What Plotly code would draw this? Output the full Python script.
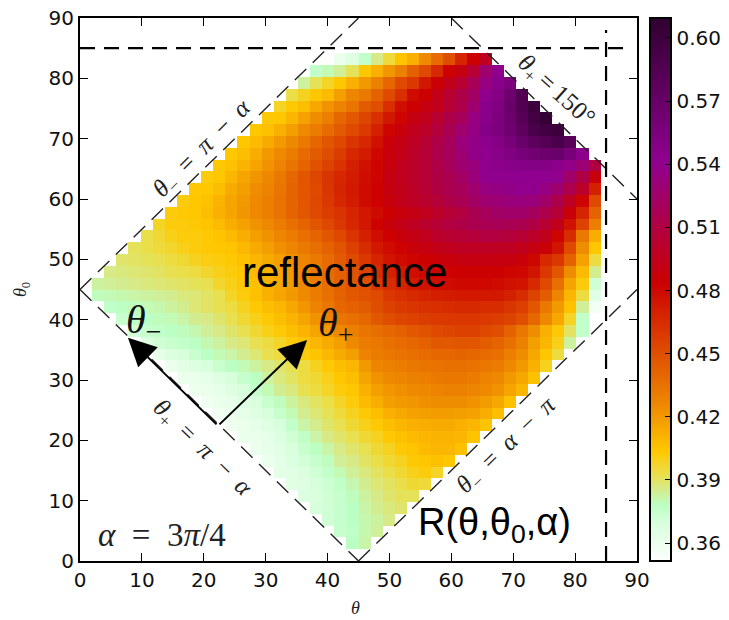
import plotly.graph_objects as go

# reflectance, in thousandths; row_k holds the cells of row k from column start[k]
row_01 = [378,382]
row_02 = [375,377,381,384]
row_03 = [372,375,378,381,383,386]
row_04 = [370,372,375,378,382,385,387,389]
row_05 = [367,369,372,375,379,383,386,389,391,391]
row_06 = [365,366,370,373,377,381,385,388,390,393,396,395]
row_07 = [364,365,368,372,376,380,384,387,390,393,396,400,402,398]
row_08 = [361,363,367,371,375,379,384,386,390,393,396,399,403,404,406,404]
row_09 = [360,362,365,369,374,378,382,386,389,392,396,399,403,405,408,410,410,406]
row_10 = [360,361,363,367,372,377,382,386,389,392,396,399,403,406,408,410,411,411,410,405]
row_11 = [359,360,363,366,370,376,382,385,389,392,396,400,403,407,410,412,413,414,414,412,410,405]
row_12 = [358,360,363,366,370,375,380,385,388,391,395,399,403,407,412,415,417,418,419,419,418,417,413,407]
row_13 = [358,360,362,366,369,374,379,383,387,390,393,398,402,408,413,418,420,421,423,424,424,424,422,419,415,406]
row_14 = [359,360,363,366,370,376,380,385,387,392,394,398,402,404,412,418,421,423,425,426,428,429,429,427,425,422,416,410]
row_15 = [360,361,363,366,370,375,378,383,387,390,394,396,400,404,407,416,422,425,427,429,430,432,433,433,431,428,426,420,415,406]
row_16 = [360,364,367,370,374,378,380,383,386,389,392,394,399,403,407,410,420,427,429,431,433,434,435,436,436,435,433,431,426,420,412,399]
row_17 = [363,367,370,374,378,380,382,385,388,392,394,398,402,405,409,414,418,428,431,433,435,436,438,440,440,441,440,438,436,430,424,415,404,394]
row_18 = [368,372,374,376,378,381,383,386,388,392,394,398,402,405,410,414,418,425,431,433,436,438,440,443,446,446,447,447,444,441,436,429,418,410,400,383]
row_19 = [371,375,376,378,379,381,384,386,389,392,396,400,403,407,411,416,420,426,430,434,437,440,443,446,449,452,454,456,456,453,450,442,433,424,412,403,390,376]
row_20 = [374,377,378,379,380,382,385,386,389,392,396,400,403,407,411,416,422,428,434,436,440,446,451,454,456,458,459,460,460,460,459,458,455,450,440,426,415,398,376]
row_21 = [377,378,379,380,381,383,385,388,390,392,394,399,403,407,410,415,421,428,433,440,443,445,451,456,459,461,463,464,465,466,466,465,465,461,457,447,432,420,406,384,357]
row_22 = [379,380,381,382,383,384,385,387,388,390,392,398,402,406,412,416,420,425,431,436,442,446,449,452,460,463,466,469,471,472,473,473,473,473,470,465,455,444,427,410,394,365]
row_23 = [383,384,385,386,387,388,389,390,391,392,397,400,403,406,412,415,419,425,431,437,443,447,450,460,465,469,473,476,478,479,480,480,480,479,477,475,466,452,436,416,402,372]
row_24 = [386,387,388,389,390,392,393,394,397,400,402,404,408,412,416,420,426,432,438,443,449,455,465,470,474,478,480,482,483,484,484,484,484,482,480,475,460,447,424,408,385]
row_25 = [389,390,391,392,394,396,399,401,402,403,406,410,414,418,423,427,432,438,445,452,460,468,475,479,482,484,486,488,490,490,490,490,489,487,481,466,460,442,417,394]
row_26 = [391,393,395,397,400,402,403,404,405,409,414,418,423,427,432,437,442,448,456,465,474,479,483,487,490,493,495,497,498,498,498,497,495,490,486,475,452,424,404]
row_27 = [393,396,400,402,402,403,405,408,413,418,422,427,431,436,441,447,453,462,470,478,483,487,491,495,500,503,505,507,509,509,507,505,500,495,482,465,432,413]
row_28 = [398,402,402,403,405,408,413,417,422,426,431,436,441,447,453,460,467,474,483,488,492,497,501,505,509,512,515,517,518,517,515,511,503,494,476,455,430]
row_29 = [402,403,404,407,412,416,421,426,430,435,441,446,452,458,462,468,474,479,484,488,491,495,500,504,509,516,520,524,525,525,521,513,505,487,468,442]
row_30 = [402,404,406,411,416,420,425,430,435,441,447,453,460,467,472,479,483,488,494,498,501,506,512,516,523,528,530,532,533,532,525,513,497,482,452]
row_31 = [403,404,407,414,418,424,428,434,441,447,452,461,468,473,479,483,490,494,499,504,510,515,520,527,534,536,538,540,540,535,527,514,500,470]
row_32 = [402,404,410,416,421,426,432,440,447,454,461,467,472,478,482,490,495,500,505,511,516,523,532,540,542,542,542,542,541,540,525,512,487]
row_33 = [403,406,411,416,422,428,434,441,449,455,462,470,477,482,488,495,500,505,512,520,528,533,540,544,546,548,550,548,544,538,530,510]
row_34 = [404,407,413,420,425,431,438,445,451,458,467,472,481,488,492,500,505,513,520,529,538,542,546,551,558,563,566,568,558,545]
row_35 = [404,408,414,420,426,432,440,447,453,461,467,477,487,491,497,504,512,520,532,538,544,549,558,568,577,583,590,580]
row_36 = [404,406,412,418,425,431,438,445,452,459,470,482,488,495,500,508,516,527,536,548,555,564,576,590,597,600]
row_37 = [403,404,410,417,424,430,440,446,454,463,474,482,490,495,503,512,520,535,546,553,566,582,596,606]
row_38 = [398,403,407,415,422,428,434,445,450,464,478,484,490,495,505,513,528,545,552,568,585,600]
row_39 = [393,399,404,408,418,427,432,442,452,464,479,484,493,503,512,523,540,548,565,585]
row_40 = [383,391,398,404,412,420,429,440,452,460,474,486,494,503,518,535,545,555]
row_41 = [376,380,384,391,404,412,421,429,443,452,466,483,491,505,527,540]
row_42 = [360,366,376,386,395,405,412,425,438,450,468,484,497]

rows = [row_01,row_02,row_03,row_04,row_05,row_06,row_07,row_08,row_09,row_10,row_11,row_12,row_13,row_14,
        row_15,row_16,row_17,row_18,row_19,row_20,row_21,row_22,row_23,row_24,row_25,row_26,row_27,row_28,
        row_29,row_30,row_31,row_32,row_33,row_34,row_35,row_36,row_37,row_38,row_39,row_40,row_41,row_42]
start = [22,21,20,19,18,17,16,15,14,13,12,11,10,9,8,7,6,5,4,3,2,1,1,2,3,4,5,6,7,8,9,10,11,12,13,14,15,16,17,18,19,21]

n_cells = 46
axis_span = 90
step = axis_span / n_cells
centers = [(i + 0.5) * step for i in range(n_cells)]
z = [[None] * n_cells for _ in range(n_cells)]
for k, (vals, s) in enumerate(zip(rows, start), start=1):
    for j, v in enumerate(vals):
        z[k][s + j] = v / 1000

zmin, zmax = 0.3515, 0.6095
cbar_ticks = [0.36, 0.39, 0.42, 0.45, 0.48, 0.51, 0.54, 0.57, 0.60]
cmap = [[0, "#fdfffd"], [0.07, "#d8ffdc"], [0.103, "#bcffc4"], [0.13, "#d4ec90"], [0.157, "#e8e050"], [0.202, "#ffc800"],
        [0.288, "#ee8800"], [0.512, "#cc0000"], [0.735, "#900090"], [1, "#300030"]]

MATH = "Liberation Serif"
TICK = dict(family="DejaVu Sans", size=20, color="#111")
fig = go.Figure(go.Heatmap(
    x=centers, y=centers, z=z, zmin=zmin, zmax=zmax, colorscale=cmap, hoverongaps=False,
    colorbar=dict(thickness=21, lenmode="pixels", len=543, x=1.0233, xanchor="left", xpad=0, y=0, yanchor="bottom", ypad=0,
                  tickvals=cbar_ticks, ticktext=[f"{t:.2f}" for t in cbar_ticks], ticks="inside", ticklen=7,
                  tickcolor="black", outlinewidth=2, outlinecolor="black", tickfont=TICK, borderwidth=0),
))

axis = dict(range=[0, axis_span], dtick=10, ticks="inside", ticklen=8, tickwidth=1, tickcolor="black", mirror="ticks",
            showline=True, linewidth=2, linecolor="black", showgrid=False, zeroline=False, tickfont=TICK)
fig.update_xaxes(**axis)
fig.update_yaxes(**axis)

guide = dict(color="#222", width=1.4, dash="16px,9px")
for x0, y0, x1, y1 in [(0, 45, 45, 90), (0, 45, 45, 0), (45, 0, 90, 45), (60, 90, 90, 60)]:
    fig.add_shape(type="line", x0=x0, y0=y0, x1=x1, y1=y1, line=guide)
heavy = dict(color="black", width=2.2, dash="15px,9px")
fig.add_shape(type="line", x0=0, y0=85, x1=88, y1=85, line=heavy)
fig.add_shape(type="line", x0=85, y0=0, x1=85, y1=88, line=heavy)

def label(text, px, py, size, angle=0, family=MATH, color="#222"):
    fig.add_annotation(xref="paper", yref="paper", x=(px - 80) / 557, y=(561 - py) / 543, text=text, showarrow=False,
                       textangle=angle, xanchor="center", yanchor="middle",
                       font=dict(family=family, size=size, color=color))

EN = "\u2002"
TH = "\u2009"
label(f"<i>θ</i><sub>−</sub>{EN}={EN}<i>π</i>{EN}−{EN}<i>α</i>", 202, 149, 25, -45)
label(f"<i>θ</i><sub>+</sub>{TH}={TH}150°", 556, 91, 25, 42)
label(f"<i>θ</i><sub>+</sub>{EN}={EN}<i>π</i>{EN}−{EN}<i>α</i>", 202, 448, 25, 44)
label(f"<i>θ</i><sub>−</sub>{EN}={EN}<i>α</i>{EN}−{EN}<i>π</i>", 507, 445, 25, -44)
label(f"<i>α</i>{EN}={EN}3<i>π</i>/4", 162, 535, 33)
label("<i>θ</i><sub>−</sub>", 143, 322, 40, color="#111")
label("<i>θ</i><sub>+</sub>", 335, 325, 40, color="#111")
label("reflectance", 344, 272, 42, family="Liberation Sans", color="black")
label("R(θ,θ<sub>0</sub>,α)", 494, 525, 38, family="Liberation Sans", color="black")
label("<i>θ</i>", 355, 608, 18)
label("<i>θ</i><sub>0</sub>", 21, 290, 18, -90)

tail = (22.3, 22.4)
for tip in [(7.75, 37.0), (36.7, 36.65)]:
    fig.add_annotation(x=tip[0], y=tip[1], ax=tail[0], ay=tail[1], xref="x", yref="y", axref="x", ayref="y", text="",
                       showarrow=True, arrowhead=2, arrowsize=2.8, arrowwidth=2, arrowcolor="black")

fig.update_layout(width=729, height=620, margin=dict(l=80, r=92, t=18, b=59, autoexpand=False), paper_bgcolor="white",
                  plot_bgcolor="white", showlegend=False)
fig.write_html("out.html", post_script="document.body.style.margin='0';", config={"displayModeBar": False})
